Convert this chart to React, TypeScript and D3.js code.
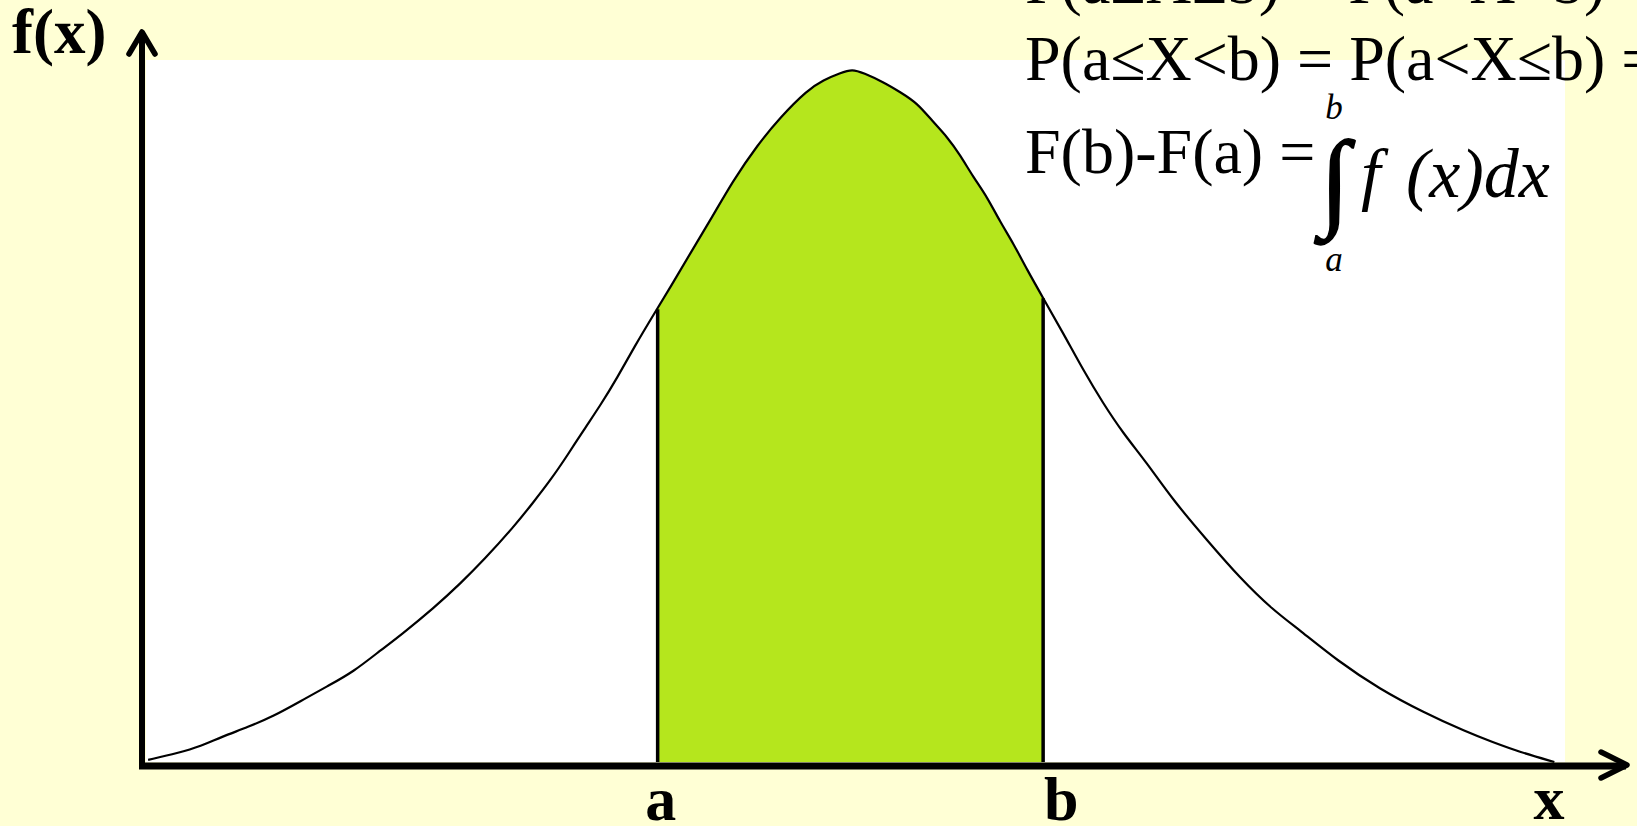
import React from "react";
import * as d3 from "d3";

// Density curve (x in curve units, y = density)
const curveX = [-3.31, -3.169, -3.061, -2.967, -2.84, -2.718, -2.592, -2.465, -2.347, -2.216, -2.122, -1.967, -1.84, -1.732, -1.592, -1.498, -1.418, -1.338, -1.263, -1.183, -1.103, -1.028, -0.915, -0.84, -0.761, -0.667, -0.559, -0.446, -0.338, -0.211, -0.136, -0.056, 0, 0.052, 0.146, 0.225, 0.305, 0.38, 0.446, 0.507, 0.568, 0.634, 0.695, 0.756, 0.822, 0.897, 0.991, 1.085, 1.178, 1.272, 1.385, 1.507, 1.667, 1.822, 1.977, 2.103, 2.282, 2.479, 2.681, 2.887, 3.009, 3.136, 3.3];
const curveY = [0.0012, 0.0052, 0.0092, 0.0144, 0.0202, 0.0266, 0.0352, 0.0439, 0.0519, 0.0646, 0.0733, 0.0889, 0.1033, 0.1166, 0.1356, 0.1501, 0.1628, 0.1772, 0.1916, 0.2061, 0.2222, 0.239, 0.2621, 0.2771, 0.2938, 0.3128, 0.3359, 0.3561, 0.3723, 0.3879, 0.3937, 0.3977, 0.4, 0.3977, 0.3925, 0.3867, 0.3804, 0.3694, 0.3608, 0.3504, 0.3377, 0.3261, 0.3117, 0.2996, 0.284, 0.2678, 0.2476, 0.2263, 0.2072, 0.1899, 0.1726, 0.1512, 0.1281, 0.1062, 0.0877, 0.0762, 0.0583, 0.0421, 0.0289, 0.0173, 0.0115, 0.0058, 0];

// Interval bounds
const boundNames = ["a", "b"];
const boundValues = [-0.915, 0.897];

// Formula text lines
const formulaLines = ["P(a≤X≤b) = P(a<X<b) =", "P(a≤X<b) = P(a<X≤b) =", "F(b)-F(a) ="];

const W = 1637;
const H = 826;
const BG = "#FFFFD5";
const GREEN = "#B5E61D";
const SERIF = "'Liberation Serif', 'Times New Roman', serif";

export default function App() {
  const left = 146, right = 1565, top = 60, bottom = 762;
  const x = d3.scaleLinear().domain([-3.32, 3.35]).range([left, right]);
  const y = d3.scaleLinear().domain([0, 0.4052]).range([bottom, top]);

  const pts: [number, number][] = curveX.map((v, i) => [v, curveY[i]]);
  const line = d3.line<[number, number]>().x(d => x(d[0])).y(d => y(d[1])).curve(d3.curveBasis);
  const area = d3.area<[number, number]>().x(d => x(d[0])).y0(y(0)).y1(d => y(d[1])).curve(d3.curveBasis);

  const aX = x(boundValues[0]);
  const bX = x(boundValues[1]);
  // height of the smoothed (B-spline) curve at each bound's knot
  const boundY = boundValues.map(v => {
    const i = curveX.indexOf(v);
    return (curveY[i - 1] + 4 * curveY[i] + curveY[i + 1]) / 6;
  });

  const axisY = 766;
  const yAxisX = 142;

  return (
    <svg width={W} height={H} style={{ position: "absolute", left: 0, top: 0, display: "block" }}>
      <rect x={0} y={0} width={W} height={H} fill={BG} />
      <rect x={left} y={top} width={right - left} height={bottom - top} fill="#FFFFFF" />
      <defs>
        <clipPath id="ab">
          <rect x={aX} y={0} width={bX - aX} height={H} />
        </clipPath>
      </defs>
      <path d={area(pts) || ""} fill={GREEN} clipPath="url(#ab)" />
      <path d={line(pts) || ""} fill="none" stroke="#000" strokeWidth={2.2} />
      {boundValues.map((v, i) => (
        <line key={i} x1={x(v)} x2={x(v)} y1={y(0)} y2={y(boundY[i]) - 1} stroke="#000" strokeWidth={3.5} />
      ))}
      {/* axes */}
      <line x1={139} x2={1626} y1={axisY} y2={axisY} stroke="#000" strokeWidth={7} />
      <polyline points={`1601,752 1627,765 1601,778`} fill="none" stroke="#000" strokeWidth={5.5} strokeLinecap="round" strokeLinejoin="round" />
      <line x1={yAxisX} x2={yAxisX} y1={769} y2={33} stroke="#000" strokeWidth={6} />
      <polyline points={`129,54 142,32 155,54`} fill="none" stroke="#000" strokeWidth={5.5} strokeLinecap="round" strokeLinejoin="round" />

      {/* labels */}
      <text x={12} y={53} fontFamily={SERIF} fontWeight="bold" fontSize={63}>f(x)</text>
      <text x={aX + 3} y={820} fontFamily={SERIF} fontWeight="bold" fontSize={62} textAnchor="middle">{boundNames[0]}</text>
      <text x={bX + 18} y={820} fontFamily={SERIF} fontWeight="bold" fontSize={62} textAnchor="middle">{boundNames[1]}</text>
      <text x={1549} y={819} fontFamily={SERIF} fontWeight="bold" fontSize={62} textAnchor="middle">x</text>

      {/* formulas */}
      <text x={1025} y={3} fontFamily={SERIF} fontSize={64}>{formulaLines[0]}</text>
      <text x={1025} y={80} fontFamily={SERIF} fontSize={64}>{formulaLines[1]}</text>
      <text x={1025} y={173} fontFamily={SERIF} fontSize={64}>{formulaLines[2]}</text>
      <text x={1335} y={216} fontFamily={SERIF} fontSize={108} textAnchor="middle" stroke="#000" strokeWidth={1.6}>∫</text>
      <text x={1334} y={119} fontFamily={SERIF} fontStyle="italic" fontSize={35} textAnchor="middle">b</text>
      <text x={1334} y={271} fontFamily={SERIF} fontStyle="italic" fontSize={35} textAnchor="middle">a</text>
      <text x={1361} y={197} fontFamily={SERIF} fontStyle="italic" fontSize={70}>f</text>
      <text x={1406} y={197} fontFamily={SERIF} fontStyle="italic" fontSize={70}>(x)dx</text>
    </svg>
  );
}
